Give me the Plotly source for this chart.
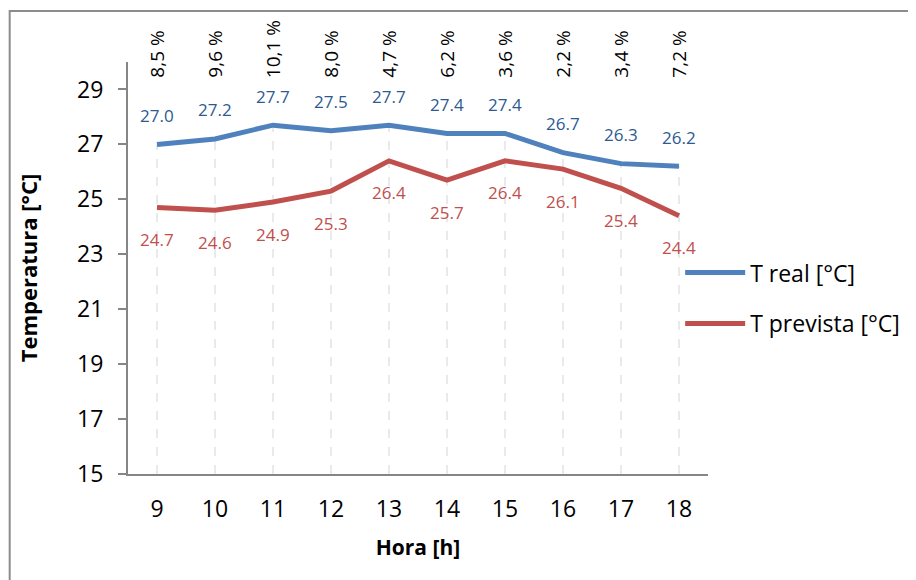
import plotly.graph_objects as go

hours = [9, 10, 11, 12, 13, 14, 15, 16, 17, 18]
t_real = [27.0, 27.2, 27.7, 27.5, 27.7, 27.4, 27.4, 26.7, 26.3, 26.2]
t_prev = [24.7, 24.6, 24.9, 25.3, 26.4, 25.7, 26.4, 26.1, 25.4, 24.4]
errors = ["8,5 %", "9,6 %", "10,1 %", "8,0 %", "4,7 %", "6,2 %", "3,6 %", "2,2 %", "3,4 %", "7,2 %"]
y_ticks = [15, 17, 19, 21, 23, 25, 27, 29]

FONT = "Open Sans"
BLUE = "#4F81BD"
RED = "#C0504D"
BLUE_TXT = "#2C5A91"
RED_TXT = "#C0504D"

fig = go.Figure()
fig.add_trace(go.Scatter(x=hours, y=t_real, mode="lines", name="T real [°C]",
                         legendgroup="a", line=dict(color=BLUE, width=5)))
fig.add_trace(go.Scatter(x=hours, y=t_prev, mode="lines", name="T prevista [°C]",
                         legendgroup="b", line=dict(color=RED, width=5)))

shapes = []
for h, v in zip(hours, t_real):
    shapes.append(dict(type="line", xref="x", yref="y", x0=h, x1=h, y0=15, y1=v,
                       line=dict(color="#D4D4D4", width=1, dash="dash"), layer="below"))
# outer chart border
shapes.append(dict(type="rect", xref="paper", yref="paper", x0=-0.204, x1=1.6,
                   y0=-0.5, y1=1.1238, line=dict(color="#8C8C8C", width=2)))

annotations = []
for h, v in zip(hours, t_real):
    annotations.append(dict(x=h, y=v, xref="x", yref="y", text=f"{v:.1f}", showarrow=False,
                            yshift=29, font=dict(family=FONT, size=17, color=BLUE_TXT)))
for h, v in zip(hours, t_prev):
    annotations.append(dict(x=h, y=v, xref="x", yref="y", text=f"{v:.1f}", showarrow=False,
                            yshift=-32, font=dict(family=FONT, size=17, color=RED_TXT)))
for h, e in zip(hours, errors):
    annotations.append(dict(x=h, y=0.956, xref="x", yref="paper", text=e, showarrow=False,
                            textangle=-90, yanchor="bottom", xanchor="center",
                            font=dict(family=FONT, size=19, color="#000000")))

fig.update_layout(
    width=916, height=580,
    margin=dict(l=120, r=216, t=54, b=114),
    paper_bgcolor="white", plot_bgcolor="white",
    font=dict(family=FONT, color="#000000"),
    showlegend=True,
    legend=dict(x=0.952, y=0.427, xanchor="left", yanchor="middle",
                font=dict(family=FONT, size=23, color="#000000"),
                tracegroupgap=18, itemwidth=60, bgcolor="rgba(0,0,0,0)"),
    shapes=shapes,
    annotations=annotations,
    xaxis=dict(range=[8.5, 18.5], tickvals=hours, ticktext=[str(h) for h in hours],
               showgrid=False, zeroline=False, showline=True, linecolor="#868686", linewidth=2,
               ticks="", ticklabelstandoff=13,
               tickfont=dict(family=FONT, size=23, color="#000000"),
               title=dict(text="<b>Hora [h]</b>", font=dict(family=FONT, size=21, color="#000000"),
                          standoff=18)),
    yaxis=dict(range=[15, 30], tickvals=y_ticks, showgrid=False, zeroline=False,
               showline=True, linecolor="#868686", linewidth=2,
               ticks="outside", ticklen=8, tickcolor="#868686", tickwidth=1.5,
               ticklabelstandoff=10,
               tickfont=dict(family=FONT, size=23, color="#000000"),
               title=dict(text="<b>Temperatura [°C]</b>", font=dict(family=FONT, size=22, color="#000000"),
                          standoff=33)),
)

fig.write_html("out.html")
